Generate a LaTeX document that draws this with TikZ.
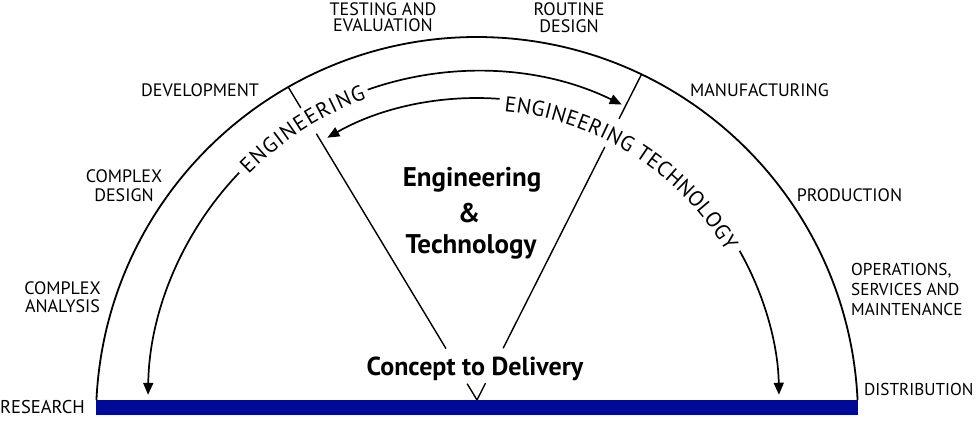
\documentclass[tikz,border=0pt]{standalone}
\usepackage{fontspec}
\setmainfont{PT Sans}
\usetikzlibrary{arrows.meta,decorations.text,calc}
\definecolor{barblue}{RGB}{0,10,150}
\newcommand\myarcfont{\fontsize{21.5pt}{21.5pt}\selectfont}
\begin{document}
\begin{tikzpicture}[x=1pt,y=1pt,
  lbl/.style={font=\fontsize{18pt}{18pt}\selectfont, inner sep=0pt, anchor=base},
  lblw/.style={lbl, anchor=base west, font=\fontsize{17.2pt}{17.2pt}\selectfont},
  ttl/.style={font=\fontsize{27pt}{27pt}\selectfont\bfseries, inner sep=0pt, anchor=base},
  arcline/.style={line width=1.7pt},
  radline/.style={line width=1.4pt},
  tipped/.style={-{Triangle[length=12pt,width=10pt]}},
]
\useasboundingbox (0,0) rectangle (978,440);
\coordinate (C) at (477,40);
\coordinate (O) at (477,22);

% outer half circle
\draw[line width=1.8pt] ($(O)+(177.3:381pt)$) arc[start angle=177.3, end angle=2.7, radius=381pt];

% engineering arc (outer inner arc)
\draw[arcline, tipped] ($(C)+(136.3:329pt)$) arc[start angle=136.3, end angle=179.1, radius=329pt];
\draw[arcline, tipped] ($(C)+(109.4:329pt)$) arc[start angle=109.4, end angle=63.9, radius=329pt];
\path[decorate, decoration={text along path, text={|\myarcfont|ENGINEERING}, text align={fit to path}, raise=-8pt}]
  ($(C)+(135.3:329pt)$) arc[start angle=135.3, end angle=110.2, radius=329pt];

% engineering technology arc (inner arc)
\draw[arcline, tipped] ($(C)+(85.7:302pt)$) arc[start angle=85.7, end angle=119.7, radius=302pt];
\draw[arcline, tipped] ($(C)+(29.6:302pt)$) arc[start angle=29.6, end angle=1, radius=302pt];
\path[decorate, decoration={text along path, text={|\myarcfont|ENGINEERING TECHNOLOGY}, text align={fit to path}, raise=-12pt}]
  ($(C)+(84.6:302pt)$) arc[start angle=84.6, end angle=30.8, radius=302pt];

% radial dividing lines
\draw[radline] ($(C)+(121.1:341pt)$) -- ($(C)+(121.1:365.5pt)$);
\draw[radline] ($(C)+(121.1:311pt)$) -- ($(C)+(121.1:60pt)$);
\draw[radline] ($(C)+(63.2:315pt)$) -- ($(C)+(63.2:364.8pt)$);
\draw[radline] ($(C)+(63.2:283.5pt)$) -- ($(C)+(63.2:58pt)$);
\draw[radline] ($(C)+(121.1:19pt)$) -- (C) -- ($(C)+(63.2:19pt)$);

% base bar
\fill[barblue] (96,25) rectangle (858,40.5);

% centre texts
\node[ttl] (t1) at (472,253) {Engineering};
\node[ttl] (t2) at (469,218) {\&};
\node[ttl] (t3) at (471,187) {Technology};
\node[ttl, font=\fontsize{26pt}{26pt}\selectfont\bfseries] (cd) at (475,65) {Concept to Delivery};

% labels
\node[lbl, anchor=base west, font=\fontsize{18.5pt}{18.5pt}\selectfont] (res) at (0,27) {RESEARCH};
\node[lblw] (dist) at (864,45) {DISTRIBUTION};
\node[lblw] (op1) at (851,165) {OPERATIONS,};
\node[lblw] (op2) at (851,145) {SERVICES AND};
\node[lblw] (op3) at (851,125) {MAINTENANCE};
\node[lbl] (ca1) at (62.5,146) {COMPLEX};
\node[lbl] (ca2) at (62.5,128) {ANALYSIS};
\node[lbl] (cd1) at (124,257) {COMPLEX};
\node[lbl] (cd2) at (124,239) {DESIGN};
\node[lbl] (dev) at (200,343) {DEVELOPMENT};
\node[lbl] (te1) at (383,424) {TESTING AND};
\node[lbl] (te2) at (383,408) {EVALUATION};
\node[lbl] (rd1) at (569,424) {ROUTINE};
\node[lbl] (rd2) at (569,407) {DESIGN};
\node[lbl] (man) at (759.5,343) {MANUFACTURING};
\node[lbl] (prod) at (849.5,238) {PRODUCTION};
\end{tikzpicture}
\end{document}
